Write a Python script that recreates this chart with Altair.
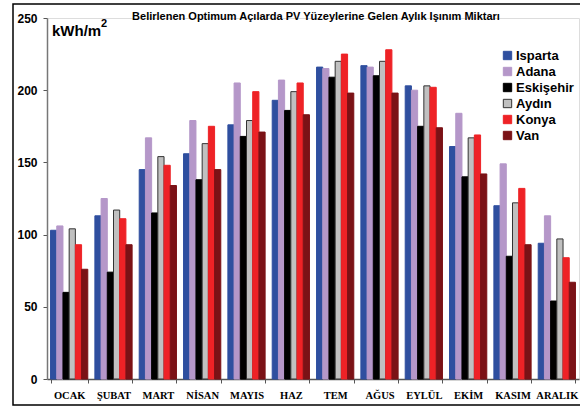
import altair as alt
import pandas as pd

months = ["OCAK", "ŞUBAT", "MART", "NİSAN", "MAYIS", "HAZ", "TEM", "AĞUS", "EYLÜL", "EKİM", "KASIM", "ARALIK"]
cities = ["Isparta", "Adana", "Eskişehir", "Aydın", "Konya", "Van"]
isparta = [103, 113, 145, 156, 176, 193, 216, 217, 203, 161, 120, 94]
adana = [106, 125, 167, 179, 205, 207, 215, 216, 200, 184, 149, 113]
eskisehir = [60, 74, 115, 138, 168, 186, 209, 210, 175, 140, 85, 54]
aydin = [104, 117, 154, 163, 179, 199, 220, 220, 203, 167, 122, 97]
konya = [93, 111, 148, 175, 199, 205, 225, 228, 202, 169, 132, 84]
van = [76, 93, 134, 145, 171, 183, 198, 198, 174, 142, 93, 67]
fill_colors = ["#2f4f9f", "#b597c9", "#000000", "#c0c0c0", "#ee2226", "#7b1216"]
stroke_colors = ["#2f4f9f", "#b597c9", "#000000", "#333333", "#ee2226", "#7b1216"]
title_text = "Belirlenen Optimum Açılarda PV Yüzeylerine Gelen Aylık Işınım Miktarı"
unit_text = "kWh/m"
unit_sup = "2"

series = [isparta, adana, eskisehir, aydin, konya, van]
rows = []
for c, vals in zip(cities, series):
    for m, v in zip(months, vals):
        rows.append({"month": m, "city": c, "value": v})
df = pd.DataFrame(rows)

legend_kw = dict(title=None, orient="none", legendX=454, legendY=31,
                 symbolType="square", symbolSize=70, symbolStrokeWidth=1,
                 labelFont="Liberation Sans", labelFontWeight="bold",
                 labelFontSize=13, labelColor="black", labelOffset=2, rowPadding=2)

bars = alt.Chart(df).mark_bar(strokeWidth=1).encode(
    x=alt.X("month:N", sort=months, title=None,
            scale=alt.Scale(paddingInner=0.16, paddingOuter=0.08),
            axis=alt.Axis(labelAngle=0, labelFont="Liberation Serif", labelFontWeight="bold",
                          labelFontSize=10.5, labelColor="black", labelPadding=7,
                          tickBand="extent", tickSize=4, tickColor="#555", domainColor="#555",
                          domainWidth=1.5)),
    xOffset=alt.XOffset("city:N", sort=cities),
    y=alt.Y("value:Q", title=None,
            scale=alt.Scale(domain=[0, 250], nice=False),
            axis=alt.Axis(values=[0, 50, 100, 150, 200, 250], grid=False,
                          labelFont="Liberation Sans", labelFontWeight="bold", labelFontSize=12,
                          labelColor="black", labelPadding=6, tickSize=4, tickColor="#555",
                          domainColor="#777", domainWidth=1.5)),
    fill=alt.Fill("city:N", sort=cities,
                  scale=alt.Scale(domain=cities, range=fill_colors),
                  legend=alt.Legend(**legend_kw)),
    stroke=alt.Stroke("city:N", sort=cities,
                      scale=alt.Scale(domain=cities, range=stroke_colors),
                      legend=alt.Legend(**legend_kw)),
)

title = alt.Chart(pd.DataFrame({"t": [title_text]})).mark_text(
    font="Liberation Sans", fontWeight="bold", fontSize=11, color="black", baseline="middle"
).encode(text="t:N", x=alt.value(269), y=alt.value(-1))

unit = alt.Chart(pd.DataFrame({"t": [unit_text]})).mark_text(
    font="Liberation Sans", fontWeight="bold", fontSize=15, color="black", baseline="middle", align="left"
).encode(text="t:N", x=alt.value(5), y=alt.value(13))

sup = alt.Chart(pd.DataFrame({"t": [unit_sup]})).mark_text(
    font="Liberation Sans", fontWeight="bold", fontSize=11, color="black", baseline="middle", align="left"
).encode(text="t:N", x=alt.value(54), y=alt.value(6))

frame = alt.Chart(pd.DataFrame({"a": [0]})).mark_rect(
    fill=None, fillOpacity=0, stroke="black", strokeWidth=1.5, clip=False
).encode(x=alt.value(-34), x2=alt.value(560), y=alt.value(-14), y2=alt.value(387))

chart = alt.layer(frame, bars, title, unit, sup).properties(
    width=532, height=361,
    autosize=alt.AutoSizeParams(type="none"),
    padding={"left": 47, "top": 18, "right": 1, "bottom": 28},
).configure_view(stroke=None).configure(background="white")

chart.save("out.html", embed_options={"renderer": "svg", "actions": False})
